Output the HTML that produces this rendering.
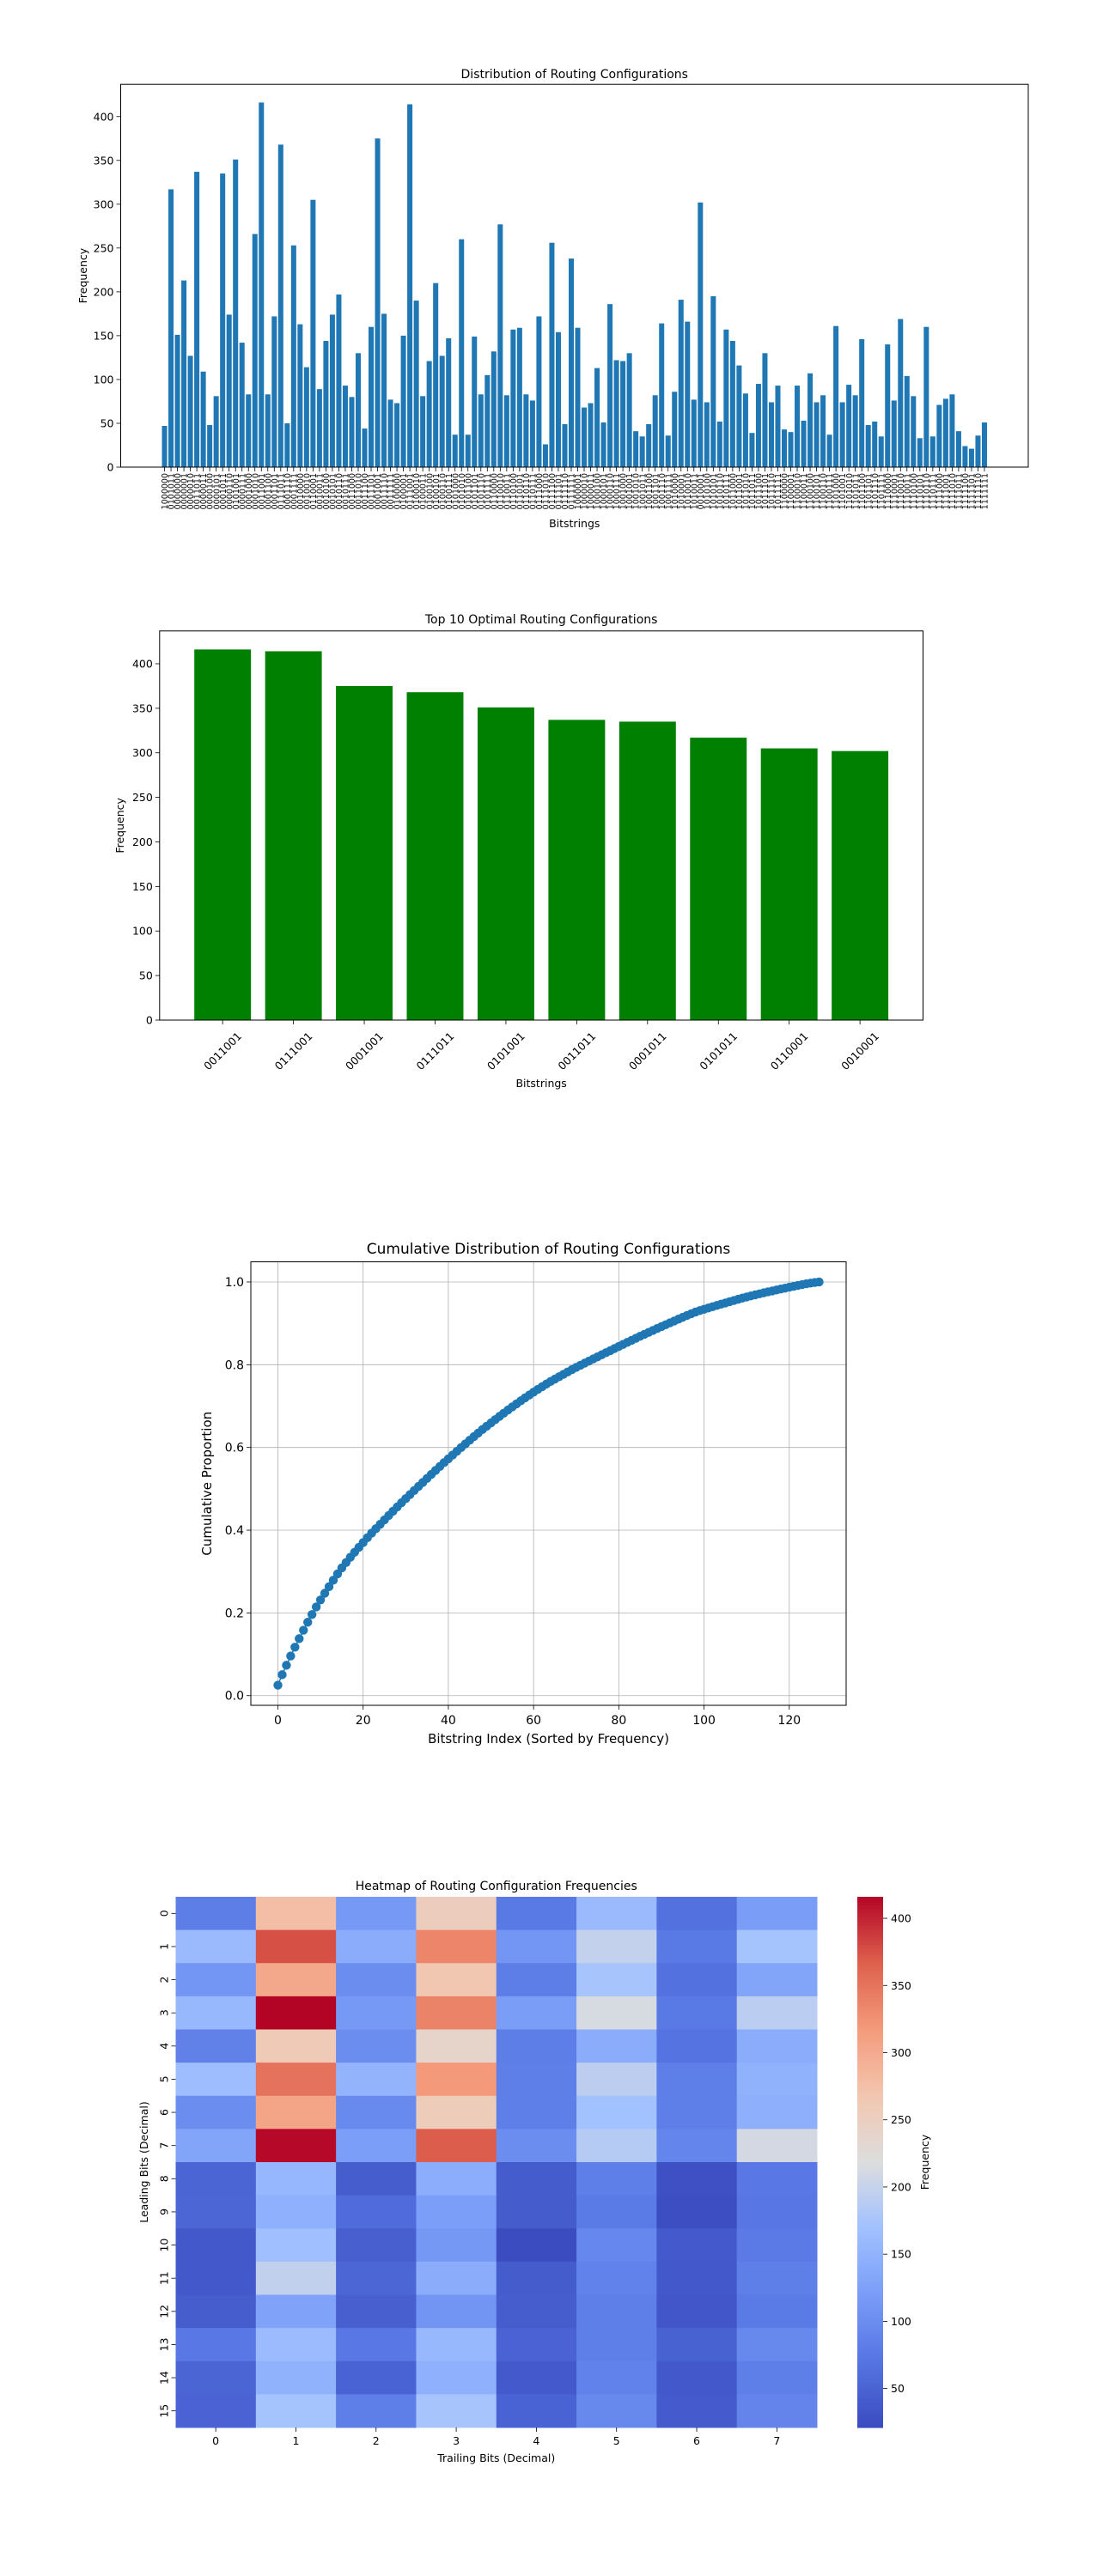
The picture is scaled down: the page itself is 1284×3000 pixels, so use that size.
<!DOCTYPE html>
<html><head><meta charset="utf-8"><title>Routing Configurations</title>
<style>
html,body{margin:0;padding:0;background:#fff;}
svg{display:block;font-family:"DejaVu Sans","Liberation Sans",sans-serif;}
</style></head>
<body>
<svg id="root" width="1284" height="3000" viewBox="0 0 1284 3000" xmlns="http://www.w3.org/2000/svg">
<rect x="0" y="0" width="1284" height="3000" fill="#fff"/>
<g id="c1"></g>
<g id="c2"></g>
<g id="c3"></g>
<g id="c4"></g>
</svg>
<script>
// ---- data ----
const freqValues = [47,317,151,213,127,337,109,48,81,335,174,351,142,83,266,416,83,172,368,50,253,163,114,305,89,144,174,197,93,80,130,44,160,375,175,77,73,150,414,190,81,121,210,127,147,37,260,37,149,83,105,132,277,82,157,159,83,76,172,26,256,154,49,238,159,68,73,113,51,186,122,121,130,41,35,49,82,164,36,86,191,166,77,302,74,195,52,157,144,116,84,39,95,130,74,93,43,40,93,53,107,74,82,37,161,74,94,82,146,48,52,35,140,76,169,104,81,33,160,35,71,78,83,41,24,21,36,51];
const knownLabels = {0:'1000000',1:'0101011',5:'0011011',9:'0001011',11:'0101001',15:'0011001',18:'0111011',23:'0110001',33:'0001001',38:'0111001',83:'0010001'};
const yTicks1 = [0,50,100,150,200,250,300,350,400];

const topLabels = ['0011001','0111001','0001001','0111011','0101001','0011011','0001011','0101011','0110001','0010001'];
const topValues = [416,414,375,368,351,337,335,317,305,302];
const yTicks2 = [0,50,100,150,200,250,300,350,400];

const xTicks3 = [0,20,40,60,80,100,120];
const yTicks3 = [0.0,0.2,0.4,0.6,0.8,1.0];

const heatRows = ['0','1','2','3','4','5','6','7','8','9','10','11','12','13','14','15'];
const heatCols = ['0','1','2','3','4','5','6','7'];
const heatValues = [
 [80,277,115,253,75,160,65,120],
 [160,375,140,335,110,197,75,172],
 [110,302,100,266,80,174,65,130],
 [157,416,115,337,120,213,75,190],
 [85,260,100,238,80,140,68,140],
 [164,351,150,317,82,191,82,147],
 [100,305,95,256,82,169,82,144],
 [130,414,121,368,100,186,90,210],
 [51,154,41,142,40,83,26,74],
 [52,146,60,121,40,76,24,73],
 [36,166,44,113,21,93,37,77],
 [36,195,52,141,40,86,36,82],
 [41,127,44,109,41,83,33,76],
 [74,161,74,157,48,82,47,94],
 [51,147,49,146,37,86,35,83],
 [48,172,82,174,49,94,39,89]
];
const cbTicks = [50,100,150,200,250,300,350,400];

// ---- helpers ----
const NS='http://www.w3.org/2000/svg';
function mk(parent,tag,attrs,text){const e=document.createElementNS(NS,tag);for(const k in attrs)e.setAttribute(k,attrs[k]);if(text!==undefined)e.textContent=text;parent.appendChild(e);return e;}
function lin(d0,d1,r0,r1){return v=>r0+(v-d0)*(r1-r0)/(d1-d0);}

// labels for chart 1
const labels1=[];
(function(){const used=new Set(Object.values(knownLabels));const pool=[];for(let i=0;i<128;i++){const s=i.toString(2).padStart(7,'0');if(!used.has(s))pool.push(s);}let p=0;for(let i=0;i<freqValues.length;i++){labels1.push(knownLabels[i]||pool[p++]);}})();

// ---- chart 1 ----
(function(){
 const g=document.getElementById('c1');
 const L=140.5,R=1197,T=98.2,B=544;
 const n=freqValues.length;
 const span=(n-1)+0.8;const xm=0.05*span;
 const x=lin(-0.4-xm,n-1+0.4+xm,L,R);
 const ymax=Math.max(...freqValues)*1.05;
 const y=lin(0,ymax,B,T);
 const bw=x(0.8)-x(0);
 freqValues.forEach((v,i)=>{
  const r=mk(g,'rect',{x:x(i)-bw/2,y:y(v),width:bw,height:B-y(v),fill:'#1f77b4'});
  
  
  const t=mk(g,'line',{x1:x(i),x2:x(i),y1:B,y2:B+5,stroke:'#000','stroke-width':0.8});
  
  
  const lb=mk(g,'text',{x:0,y:0,transform:`translate(${x(i)+3.6},${B+7}) rotate(-90)`,'text-anchor':'end','font-size':'9.5px',fill:'#000'},labels1[i]);
  
  
 });
 yTicks1.forEach(v=>{
  const t=mk(g,'line',{x1:L-5,x2:L,y1:y(v),y2:y(v),stroke:'#000','stroke-width':0.8});
  
  
  const lb=mk(g,'text',{x:L-8,y:y(v)+4.5,'text-anchor':'end','font-size':'12.5px',fill:'#000'},String(v));
  
  
 });
 const f=mk(g,'rect',{x:L,y:T,width:R-L,height:B-T,fill:'none',stroke:'#000','stroke-width':1});
 
 
 const ti=mk(g,'text',{x:(L+R)/2,y:91,'text-anchor':'middle','font-size':'14px'},'Distribution of Routing Configurations');
 
 
 const xl=mk(g,'text',{x:(L+R)/2,y:614,'text-anchor':'middle','font-size':'12.5px'},'Bitstrings');
 
 
 const yl=mk(g,'text',{x:0,y:0,transform:`translate(101,${(T+B)/2}) rotate(-90)`,'text-anchor':'middle','font-size':'12.5px'},'Frequency');
 
 
})();

// ---- chart 2 ----
(function(){
 const g=document.getElementById('c2');
 const L=185.8,R=1074.5,T=734.8,B=1188;
 const n=topValues.length;
 const span=(n-1)+0.8;const xm=0.05*span;
 const x=lin(-0.4-xm,n-1+0.4+xm,L,R);
 const ymax=Math.max(...topValues)*1.05;
 const y=lin(0,ymax,B,T);
 const bw=x(0.8)-x(0);
 topValues.forEach((v,i)=>{
  const r=mk(g,'rect',{x:x(i)-bw/2,y:y(v),width:bw,height:B-y(v),fill:'#008000'});
  
  
  const t=mk(g,'line',{x1:x(i),x2:x(i),y1:B,y2:B+5,stroke:'#000','stroke-width':0.8});
  
  
  const lb=mk(g,'text',{x:0,y:0,transform:`translate(${x(i)},${B+36}) rotate(-45)`,'text-anchor':'middle','dominant-baseline':'central','font-size':'12.5px'},topLabels[i]);
  
  
 });
 yTicks2.forEach(v=>{
  const t=mk(g,'line',{x1:L-5,x2:L,y1:y(v),y2:y(v),stroke:'#000','stroke-width':0.8});
  
  
  const lb=mk(g,'text',{x:L-8,y:y(v)+4.5,'text-anchor':'end','font-size':'12.5px'},String(v));
  
  
 });
 const f=mk(g,'rect',{x:L,y:T,width:R-L,height:B-T,fill:'none',stroke:'#000','stroke-width':1});
 
 
 const ti=mk(g,'text',{x:(L+R)/2,y:726,'text-anchor':'middle','font-size':'14px'},'Top 10 Optimal Routing Configurations');
 
 
 const xl=mk(g,'text',{x:(L+R)/2,y:1266,'text-anchor':'middle','font-size':'12.5px'},'Bitstrings');
 
 
 const yl=mk(g,'text',{x:0,y:0,transform:`translate(144,${(T+B)/2}) rotate(-90)`,'text-anchor':'middle','font-size':'12.5px'},'Frequency');
 
 
})();

// ---- chart 3 (cumulative, derived from freqValues) ----
(function(){
 const g=document.getElementById('c3');
 const L=292,R=985,T=1469.5,B=1986;
 const sorted=[...freqValues].sort((a,b)=>b-a);
 const total=sorted.reduce((a,b)=>a+b,0);
 let acc=0;const cum=sorted.map(v=>(acc+=v)/total);
 const n=cum.length;
 const xm=0.05*(n-1);
 const x=lin(-xm,n-1+xm,L,R);
 const ymn=Math.min(...cum),ymx=Math.max(...cum);const ym=0.05*(ymx-ymn);
 const y=lin(ymn-ym,ymx+ym,B,T);
 xTicks3.forEach(v=>{
  const gl=mk(g,'line',{x1:x(v),x2:x(v),y1:T,y2:B,stroke:'#b0b0b0','stroke-width':0.8});
  
  
  const t=mk(g,'line',{x1:x(v),x2:x(v),y1:B,y2:B+5,stroke:'#000','stroke-width':0.8});
  
  
  const lb=mk(g,'text',{x:x(v),y:B+22,'text-anchor':'middle','font-size':'14px'},String(v));
  
  
 });
 yTicks3.forEach(v=>{
  const gl=mk(g,'line',{x1:L,x2:R,y1:y(v),y2:y(v),stroke:'#b0b0b0','stroke-width':0.8});
  
  
  const t=mk(g,'line',{x1:L-5,x2:L,y1:y(v),y2:y(v),stroke:'#000','stroke-width':0.8});
  
  
  const lb=mk(g,'text',{x:L-8,y:y(v)+5,'text-anchor':'end','font-size':'14px'},v.toFixed(1));
  
  
 });
 const pts=cum.map((v,i)=>x(i).toFixed(2)+','+y(v).toFixed(2)).join(' ');
 const pl=mk(g,'polyline',{points:pts,fill:'none',stroke:'#1f77b4','stroke-width':1.5});
 
 
 cum.forEach((v,i)=>{
  const c=mk(g,'circle',{cx:x(i),cy:y(v),r:5.2,fill:'#1f77b4'});
  
  
 });
 const f=mk(g,'rect',{x:L,y:T,width:R-L,height:B-T,fill:'none',stroke:'#000','stroke-width':1});
 
 
 const ti=mk(g,'text',{x:(L+R)/2,y:1460,'text-anchor':'middle','font-size':'17px'},'Cumulative Distribution of Routing Configurations');
 
 
 const xl=mk(g,'text',{x:(L+R)/2,y:2030,'text-anchor':'middle','font-size':'15px'},'Bitstring Index (Sorted by Frequency)');
 
 
 const yl=mk(g,'text',{x:0,y:0,transform:`translate(246,${(T+B)/2}) rotate(-90)`,'text-anchor':'middle','font-size':'15px'},'Cumulative Proportion');
 
 
})();

// ---- chart 4 (heatmap) ----
(function(){
 const g=document.getElementById('c4');
 const L=204.5,R=951,T=2209,B=2827;
 const stops=[[0,[59,76,192]],[0.125,[86,117,227]],[0.25,[122,157,248]],[0.375,[162,193,255]],[0.5,[221,221,221]],[0.625,[243,198,175]],[0.75,[244,154,123]],[0.875,[222,96,77]],[1,[180,4,38]]];
 function cmap(t){t=Math.max(0,Math.min(1,t));for(let i=1;i<stops.length;i++){if(t<=stops[i][0]){const a=stops[i-1],b=stops[i];const f=(t-a[0])/(b[0]-a[0]);const c=a[1].map((v,k)=>Math.round(v+(b[1][k]-v)*f));return `rgb(${c[0]},${c[1]},${c[2]})`;}}return 'rgb(180,4,38)';}
 const flat=heatValues.flat();const vmin=Math.min(...flat),vmax=Math.max(...flat);
 const nr=heatRows.length,nc=heatCols.length;
 const x=lin(0,nc,L,R),y=lin(0,nr,T,B);
 heatValues.forEach((row,r)=>row.forEach((v,c)=>{
  const cell=mk(g,'rect',{x:x(c),y:y(r),width:x(c+1)-x(c)+0.5,height:y(r+1)-y(r)+0.5,fill:cmap((v-vmin)/(vmax-vmin))});
  
  
 }));
 heatCols.forEach((lab,c)=>{
  const cx=x(c+0.5);
  const t=mk(g,'line',{x1:cx,x2:cx,y1:B,y2:B+5,stroke:'#000','stroke-width':0.8});
  
  
  const lb=mk(g,'text',{x:cx,y:B+20,'text-anchor':'middle','font-size':'12.5px'},lab);
  
  
 });
 heatRows.forEach((lab,r)=>{
  const cy=y(r+0.5);
  const t=mk(g,'line',{x1:L-5,x2:L,y1:cy,y2:cy,stroke:'#000','stroke-width':0.8});
  
  
  const lb=mk(g,'text',{x:0,y:0,transform:`translate(${L-9},${cy}) rotate(-90)`,'text-anchor':'middle','font-size':'12.5px'},lab);
  
  
 });
 // colorbar
 const CL=998,CR=1028;
 const cy=lin(vmin,vmax,B,T);
 const steps=200;
 for(let i=0;i<steps;i++){
  const v0=vmin+(vmax-vmin)*i/steps,v1=vmin+(vmax-vmin)*(i+1)/steps;
  const s=mk(g,'rect',{x:CL,y:cy(v1),width:CR-CL,height:cy(v0)-cy(v1)+0.6,fill:cmap(i/steps)});
  
  
 }
 cbTicks.forEach(v=>{
  const t=mk(g,'line',{x1:CR,x2:CR+5,y1:cy(v),y2:cy(v),stroke:'#000','stroke-width':0.8});
  
  
  const lb=mk(g,'text',{x:CR+9,y:cy(v)+4.5,'font-size':'12.5px'},String(v));
  
  
 });
 const cl=mk(g,'text',{x:0,y:0,transform:`translate(1081,${(T+B)/2}) rotate(-90)`,'text-anchor':'middle','font-size':'12.5px'},'Frequency');
 
 
 const ti=mk(g,'text',{x:(L+R)/2,y:2201,'text-anchor':'middle','font-size':'14px'},'Heatmap of Routing Configuration Frequencies');
 
 
 const xl=mk(g,'text',{x:(L+R)/2,y:2867,'text-anchor':'middle','font-size':'12.5px'},'Trailing Bits (Decimal)');
 
 
 const yl=mk(g,'text',{x:0,y:0,transform:`translate(172,${(T+B)/2}) rotate(-90)`,'text-anchor':'middle','font-size':'12.5px'},'Leading Bits (Decimal)');
 
 
})();
</script>
</body></html>
